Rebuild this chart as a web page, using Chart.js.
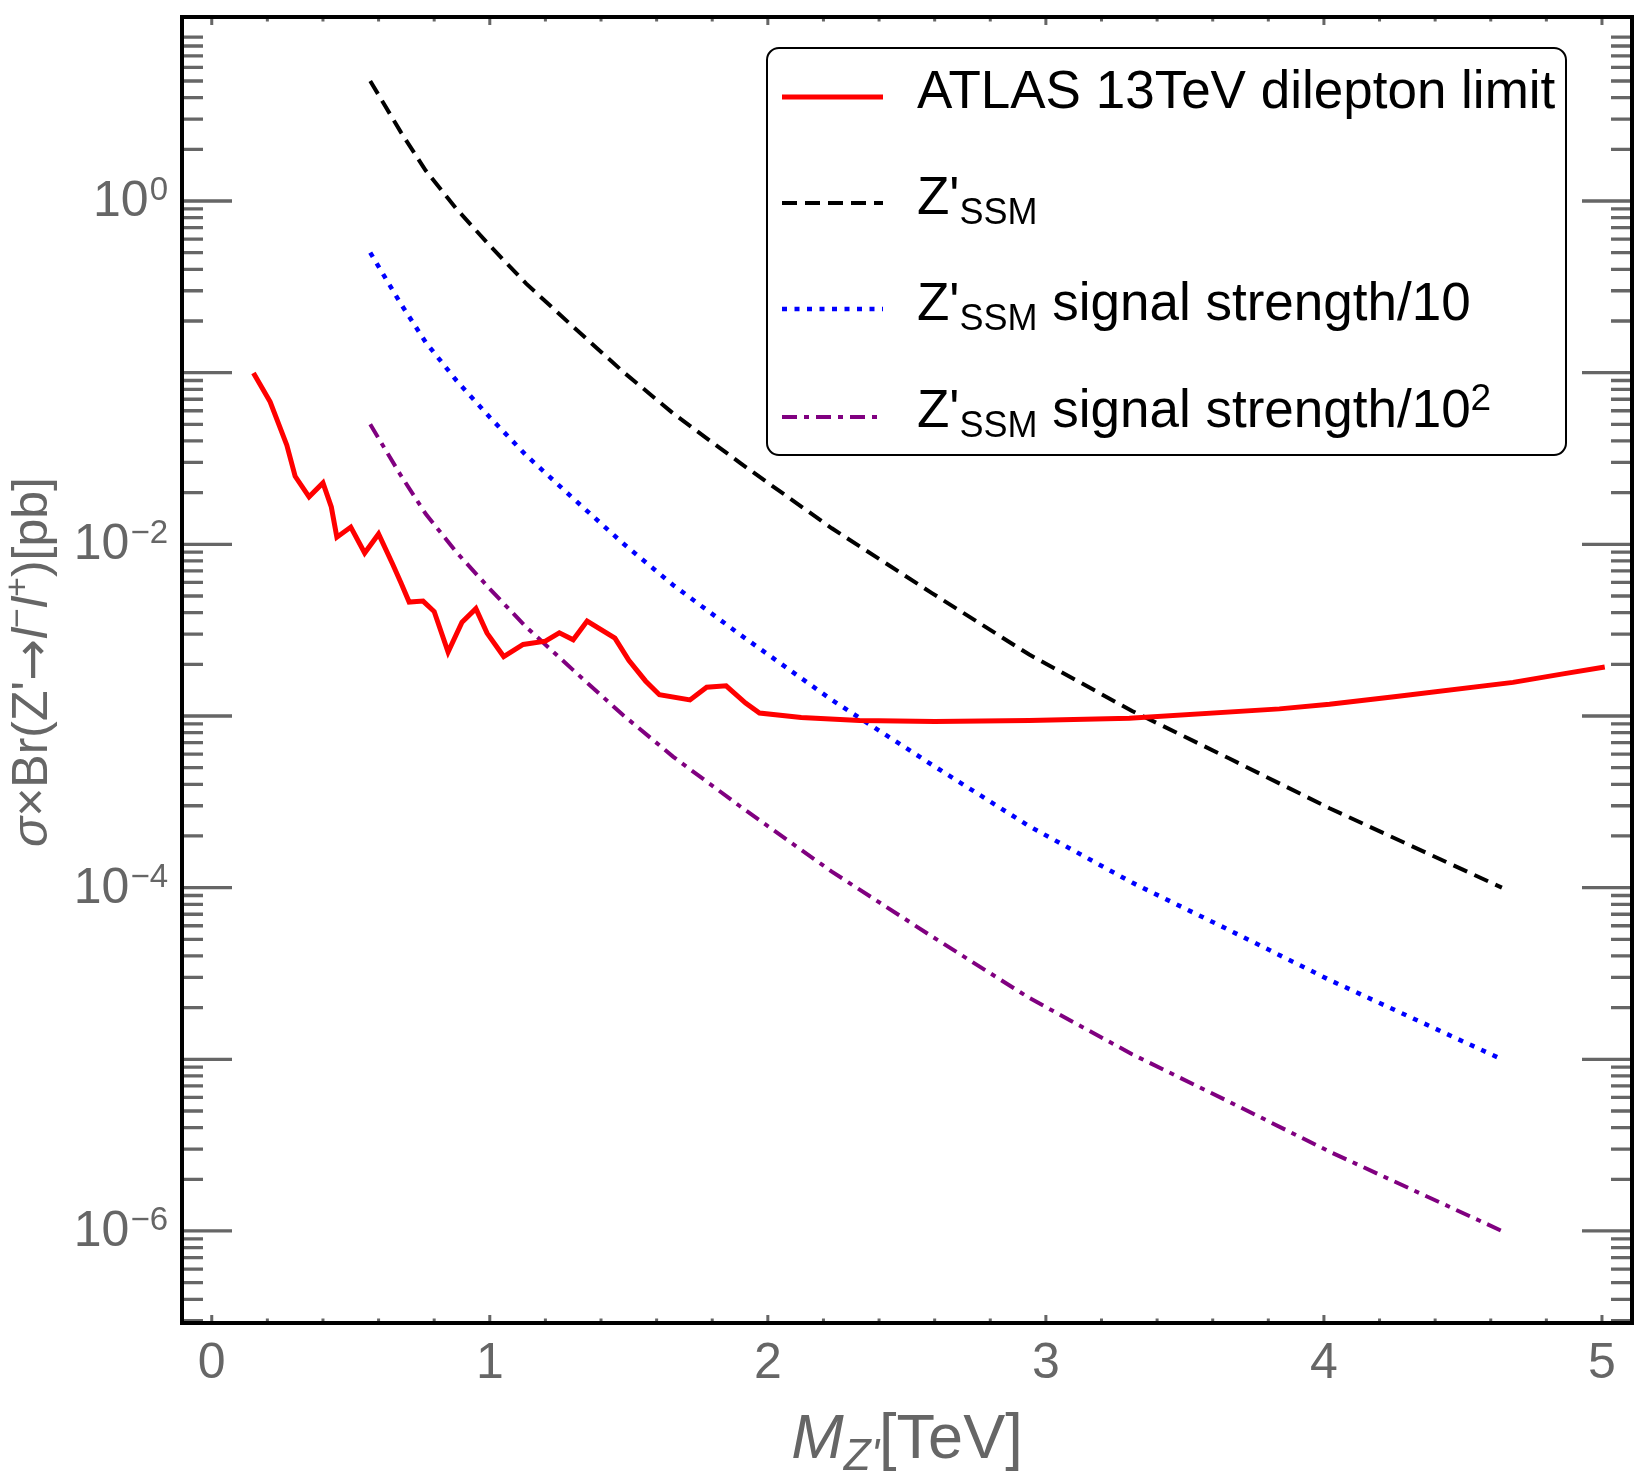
<!DOCTYPE html>
<html>
<head>
<meta charset="utf-8">
<script src="https://cdn.jsdelivr.net/npm/chart.js@4.4.1/dist/chart.umd.min.js"></script>
<style>
  html, body { margin: 0; padding: 0; background: #fff; }
  canvas { display: block; }
</style>
</head>
<body>
<canvas id="grafica" width="1650" height="1482" style="width:1650px;height:1482px"></canvas>
<script>
// ATLAS 13 TeV dilepton limit (pb)
const limitMass = [0.15, 0.21, 0.27, 0.30, 0.35, 0.40, 0.43, 0.45, 0.50, 0.55,
    0.60, 0.65, 0.68, 0.71, 0.76, 0.80, 0.85, 0.90, 0.95, 0.99,
    1.05, 1.12, 1.20, 1.25, 1.30, 1.35, 1.45, 1.50, 1.56, 1.61,
    1.72, 1.78, 1.85, 1.92, 1.97, 2.12, 2.33, 2.60, 2.94, 3.30,
    3.84, 4.02, 4.26, 4.68, 4.86, 5.01];
const limitXsec = [0.0997, 0.0676, 0.0378, 0.0249, 0.0189, 0.0228, 0.0165, 0.0110, 0.0126, 0.0089,
    0.0115, 0.0077, 0.0060, 0.00461, 0.00467, 0.00406, 0.00236, 0.00352, 0.00422, 0.00304,
    0.00222, 0.00261, 0.00273, 0.00305, 0.00278, 0.00357, 0.00284, 0.00211, 0.0016, 0.00133,
    0.00124, 0.00147, 0.0015, 0.00119, 0.00104, 0.00098, 0.00094, 0.00093, 0.00094, 0.00097,
    0.0011, 0.00117, 0.0013, 0.00157, 0.00176, 0.00193];

// Z'_SSM curves
const ssmMass = [0.57, 0.68, 0.77, 0.88, 1.00, 1.13, 1.30, 1.48, 1.66, 1.90, 2.23, 2.59, 2.94, 3.31, 3.66, 4.02, 4.64];
const ssmXsec = [5.0, 2.52, 1.50, 0.90, 0.55, 0.331, 0.185, 0.101, 0.0578, 0.0298,
    0.0124, 0.0052, 0.00228, 0.00107, 0.000565, 0.00029, 0.0001];
const ssmXsec10 = [0.5, 0.252, 0.150, 0.090, 0.055, 0.0331, 0.0185, 0.0101, 0.00578, 0.00298,
    0.00124, 0.00052, 0.000228, 0.000107, 0.0000565, 0.000029, 0.00001];
const ssmXsec100 = [0.05, 0.0252, 0.0150, 0.0090, 0.0055, 0.00331, 0.00185, 0.00101, 0.000578, 0.000298,
    0.000124, 0.000052, 0.0000228, 0.0000107, 0.00000565, 0.0000029, 0.000001];

// ticks
const xTickLabels = ['0', '1', '2', '3', '4', '5'];
const yTickExponents = ['0', '\u22122', '\u22124', '\u22126'];

const fuente = "'Liberation Sans', Arial, sans-serif";
const gris = '#666666';

function puntos(xs, ys) {
    return xs.map((x, i) => ({ x: x, y: ys[i] }));
}

function textoPartes(ctx, partes, x, y, align) {
    let total = 0;
    partes.forEach(p => {
        ctx.font = p.font;
        p.w = ctx.measureText(p.t).width;
        total += p.w;
    });
    let cx = x;
    if (align === 'center') cx = x - total / 2;
    else if (align === 'right') cx = x - total;
    ctx.textAlign = 'left';
    ctx.textBaseline = 'alphabetic';
    partes.forEach(p => {
        ctx.font = p.font;
        ctx.fillText(p.t, cx, y + (p.dy || 0));
        cx += p.w;
    });
}

const ejesPlugin = {
    id: 'ejes',
    afterDatasetsDraw(chart) {
        const ctx = chart.ctx;
        const xs = chart.scales.x;
        const ys = chart.scales.y;
        const a = chart.chartArea;
        ctx.save();

        // y ticks, left and right
        ctx.strokeStyle = gris;
        ctx.lineWidth = 3.3;
        for (let k = -7; k <= 0; k++) {
            for (let m = 1; m <= 9; m++) {
                let v = m * Math.pow(10, k);
                if (v < 2.95e-7 || v > 9.5) continue;
                let py = ys.getPixelForValue(v);
                let len = m === 1 ? 50 : 21;
                ctx.beginPath();
                ctx.moveTo(a.left, py); ctx.lineTo(a.left + len, py);
                ctx.moveTo(a.right, py); ctx.lineTo(a.right - len, py);
                ctx.stroke();
            }
        }

        // x ticks, bottom and top
        ctx.lineWidth = 3;
        for (let i = 0; i <= 25; i++) {
            let v = i * 0.2;
            let px = xs.getPixelForValue(v);
            let len = i % 5 === 0 ? 8 : 4.5;
            ctx.beginPath();
            ctx.moveTo(px, a.bottom); ctx.lineTo(px, a.bottom - len);
            ctx.moveTo(px, a.top); ctx.lineTo(px, a.top + len);
            ctx.stroke();
        }

        // frame
        ctx.strokeStyle = '#000';
        ctx.lineWidth = 4;
        ctx.strokeRect(a.left, a.top, a.right - a.left, a.bottom - a.top);

        // x labels
        ctx.fillStyle = gris;
        ctx.font = '50px ' + fuente;
        ctx.textAlign = 'center';
        ctx.textBaseline = 'alphabetic';
        xTickLabels.forEach(lab => {
            ctx.fillText(lab, xs.getPixelForValue(parseFloat(lab)), 1378);
        });

        // y labels 10^n
        yTickExponents.forEach(ex => {
            let v = Math.pow(10, parseFloat(ex.replace('\u2212', '-')));
            let py = ys.getPixelForValue(v);
            ctx.font = '33px ' + fuente;
            ctx.textAlign = 'right';
            ctx.fillText(ex, 168, py - 1);
            let wSup = ctx.measureText(ex).width;
            ctx.font = '50px ' + fuente;
            ctx.fillText('10', 168 - wSup - 1, py + 15);
        });

        // x title
        textoPartes(ctx, [
            { t: 'M', font: 'italic 63px ' + fuente },
            { t: "Z'", font: 'italic 44px ' + fuente, dy: 12 },
            { t: '[TeV]', font: '63px ' + fuente }
        ], (a.left + a.right) / 2, 1458, 'center');

        // y title
        ctx.save();
        ctx.translate(47, 662);
        ctx.rotate(-Math.PI / 2);
        textoPartes(ctx, [
            { t: '\u03c3', font: 'italic 50px ' + fuente },
            { t: "\u00d7Br(Z'", font: '50px ' + fuente },
            { t: '\u2192', font: "50px 'DejaVu Sans', sans-serif", dy: 2 },
            { t: 'l', font: 'italic 50px ' + fuente },
            { t: '\u2212', font: '34px ' + fuente, dy: -19 },
            { t: 'l', font: 'italic 50px ' + fuente },
            { t: '+', font: '34px ' + fuente, dy: -19 },
            { t: ')[pb]', font: '50px ' + fuente }
        ], 0, 0, 'center');
        ctx.restore();

        ctx.restore();
    },
    afterDraw(chart) {
        const ctx = chart.ctx;
        ctx.save();
        // legend box
        ctx.fillStyle = '#fff';
        ctx.strokeStyle = '#000';
        ctx.lineWidth = 2;
        ctx.beginPath();
        ctx.roundRect(767, 48, 799, 407, 12);
        ctx.fill();
        ctx.stroke();

        const filas = [97, 203, 309, 417];
        const base = [108, 214, 320, 427];
        chart.data.datasets.forEach((ds, i) => {
            ctx.strokeStyle = ds.borderColor;
            ctx.lineWidth = ds.borderWidth;
            ctx.setLineDash(ds.borderDash || []);
            ctx.beginPath();
            ctx.moveTo(782, filas[i]);
            ctx.lineTo(883, filas[i]);
            ctx.stroke();
        });
        ctx.setLineDash([]);

        ctx.fillStyle = '#000';
        const f = '53px ' + fuente;
        const fs = '36px ' + fuente;
        textoPartes(ctx, [{ t: 'ATLAS 13TeV dilepton limit', font: f }], 917, base[0], 'left');
        textoPartes(ctx, [{ t: "Z'", font: f }, { t: 'SSM', font: fs, dy: 10 }], 917, base[1], 'left');
        textoPartes(ctx, [{ t: "Z'", font: f }, { t: 'SSM', font: fs, dy: 10 },
            { t: ' signal strength/10', font: f }], 917, base[2], 'left');
        textoPartes(ctx, [{ t: "Z'", font: f }, { t: 'SSM', font: fs, dy: 10 },
            { t: ' signal strength/10', font: f }, { t: '2', font: '37px ' + fuente, dy: -17 }], 917, base[3], 'left');
        ctx.restore();
    }
};

document.addEventListener('DOMContentLoaded', function() {
    var ctx = document.getElementById('grafica').getContext('2d');
    var grafica = new Chart(ctx, {
        type: 'line',
        data: {
            datasets: [{
                label: 'ATLAS 13TeV dilepton limit',
                data: puntos(limitMass, limitXsec),
                borderColor: '#ff0000',
                borderWidth: 5,
                borderDash: []
            }, {
                label: "Z'SSM",
                data: puntos(ssmMass, ssmXsec),
                borderColor: '#000000',
                borderWidth: 4,
                borderDash: [15, 8]
            }, {
                label: "Z'SSM signal strength/10",
                data: puntos(ssmMass, ssmXsec10),
                borderColor: '#0000ff',
                borderWidth: 4.5,
                borderDash: [5, 7.5]
            }, {
                label: "Z'SSM signal strength/10^2",
                data: puntos(ssmMass, ssmXsec100),
                borderColor: '#800080',
                borderWidth: 4,
                borderDash: [15, 7, 5, 7]
            }]
        },
        options: {
            responsive: false,
            devicePixelRatio: 1,
            animation: false,
            layout: { padding: { left: 182, right: 18, top: 17, bottom: 159 } },
            elements: {
                point: { radius: 0 },
                line: { tension: 0, fill: false, borderCapStyle: 'butt', borderJoinStyle: 'miter' }
            },
            scales: {
                x: { type: 'linear', min: -0.107, max: 5.108, display: false },
                y: { type: 'logarithmic', min: 2.91e-7, max: 11.8, display: false }
            },
            plugins: {
                legend: { display: false },
                tooltip: { enabled: false }
            }
        },
        plugins: [ejesPlugin]
    });
});
</script>
</body>
</html>
